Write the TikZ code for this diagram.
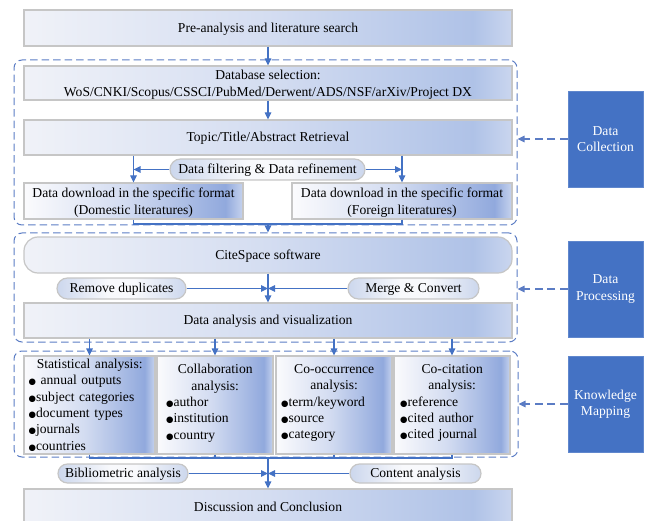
\documentclass[tikz,border=0pt]{standalone}
\usepackage{fontspec}
\setmainfont{Liberation Serif}
\newfontfamily\symf{DejaVu Sans}
\usetikzlibrary{arrows.meta}

\definecolor{flowblue}{HTML}{4472C4}
\definecolor{dashblue}{HTML}{5B7CC4}
\definecolor{sideblue}{HTML}{4472C4}
\definecolor{framegray}{HTML}{C6C6C6}
\definecolor{mainA}{HTML}{F0F2F8}
\definecolor{mainB}{HTML}{D4DDF1}
\definecolor{mainC}{HTML}{AFC2E7}
\definecolor{mainD}{HTML}{CAD6EF}
\definecolor{deepA}{HTML}{FBFBFD}
\definecolor{deepB}{HTML}{D3DCF1}
\definecolor{deepC}{HTML}{91A9DD}
\definecolor{deepD}{HTML}{C6D3EE}
\definecolor{pillE}{HTML}{CCD7ED}
\definecolor{pillM}{HTML}{F8F9FC}

\pgfdeclarehorizontalshading{mainshade}{100bp}{color(0bp)=(mainA); color(25bp)=(mainA); color(50bp)=(mainB); color(71bp)=(mainC); color(75bp)=(mainD); color(100bp)=(mainD)}
\pgfdeclarehorizontalshading{deepshade}{100bp}{color(0bp)=(deepA); color(25bp)=(deepA); color(48bp)=(deepB); color(71bp)=(deepC); color(75bp)=(deepD); color(100bp)=(deepD)}
\pgfdeclarehorizontalshading{pillshade}{100bp}{color(0bp)=(pillE); color(25bp)=(pillE); color(45bp)=(pillM); color(55bp)=(pillM); color(75bp)=(pillE); color(100bp)=(pillE)}

\newcommand\bul{{\symf\fontsize{8.5}{8.5}\selectfont ●}}

\tikzset{
  oneline/.style={text height=9.5pt, text depth=0.9pt},
  mainbox/.style={draw=framegray, line width=1.2pt, shade, shading=mainshade,
    minimum width=488pt, inner sep=0pt, oneline},
  deepbox/.style={draw=framegray, line width=1.2pt, shade, shading=deepshade,
    inner sep=0pt},
  pill/.style={draw=framegray, line width=1.2pt, shade, shading=pillshade,
    inner sep=0pt, oneline},
  groupbox/.style={draw=dashblue, line width=1pt, dash pattern=on 7.5pt off 4pt,
    rounded corners=8pt, inner sep=0pt},
  sidebox/.style={fill=sideblue, draw=sideblue!85!white, line width=0.6pt,
    text=white, minimum width=75pt, minimum height=96pt, inner sep=0pt, align=center},
  flow/.style={draw=flowblue, line width=1.2pt, -{Triangle[length=7pt,width=6.5pt]}},
  plainline/.style={draw=flowblue, line width=1.2pt},
  sideflow/.style={draw=dashblue, line width=1.2pt, dash pattern=on 8pt off 4.5pt,
    -{Triangle[length=7pt,width=6.5pt]}},
  textline/.style={anchor=base, inner sep=0pt},
  listtext/.style={anchor=north west, inner sep=0pt, align=left}
}

\begin{document}
\begin{tikzpicture}[x=1pt, y=-1pt, font=\fontsize{13.6}{16.4}\selectfont]
\useasboundingbox (0,0) rectangle (650,521);

% dashed stage frames
\node[groupbox, minimum width=503pt, minimum height=165pt] (g1) at (265.5,142.5) {};
\node[groupbox, minimum width=503pt, minimum height=109pt] (g2) at (265.5,287.5) {};
\node[groupbox, minimum width=504pt, minimum height=106pt] (g3) at (266,404) {};

% main column
\node[mainbox, minimum height=36pt] (pre) at (268,28) {Pre-analysis and literature search};
\node[mainbox, minimum height=34pt] (db) at (268,83) {};
\node[textline] (dbA) at (268,79.5) {Database selection:};
\node[textline] (dbB) at (268,96.5) {WoS/CNKI/Scopus/CSSCI/PubMed/Derwent/ADS/NSF/arXiv/Project DX};
\node[mainbox, minimum height=35pt] (topic) at (268,137.5) {Topic/Title/Abstract Retrieval};
\node[pill, minimum width=195pt, minimum height=21pt, rounded corners=10.5pt] (filt) at (267.5,169.5)
  {Data filtering \& Data refinement};
\node[deepbox, minimum width=219pt, minimum height=36pt] (dom) at (133.5,201) {};
\node[textline] (domA) at (133.5,197.7) {Data download in the specific format};
\node[textline] (domB) at (133.5,215) {(Domestic literatures)};
\node[deepbox, minimum width=220pt, minimum height=36pt] (for) at (402,201) {};
\node[textline] (forA) at (402,197.7) {Data download in the specific format};
\node[textline] (forB) at (402,215) {(Foreign literatures)};

\node[mainbox, minimum height=36pt, rounded corners=14pt] (cite) at (268,255) {CiteSpace software};
\node[pill, minimum width=129pt, minimum height=21pt, rounded corners=10.5pt] (rmdup) at (121.5,288.5) {Remove duplicates};
\node[pill, minimum width=131pt, minimum height=21pt, rounded corners=10.5pt] (merge) at (413.5,288.5) {Merge \& Convert};
\node[mainbox, minimum height=35pt] (dav) at (268,320.5) {Data analysis and visualization};

% analysis panels
\node[deepbox, minimum width=131pt, minimum height=98pt] (a1) at (89.5,405) {};
\node[deepbox, minimum width=116pt, minimum height=98pt] (a2) at (215,405) {};
\node[deepbox, minimum width=116pt, minimum height=98pt] (a3) at (334,405) {};
\node[deepbox, minimum width=116pt, minimum height=98pt] (a4) at (452,405) {};

\node[listtext, text width=122pt] (a1t) at (28.5,358.7)
  {{\centering Statistical analysis:\par}
   \bul\ annual outputs\\ \bul subject categories\\ \bul document types\\ \bul journals\\ \bul countries};
\node[listtext, text width=98pt] (a2t) at (166,364)
  {{\centering Collaboration\\ analysis:\par}
   \bul author\\ \bul institution\\ \bul country};
\node[listtext, text width=106pt] (a3t) at (281,364)
  {{\centering Co-occurrence\\ analysis:\par}
   \bul term/keyword\\ \bul source\\ \bul category};
\node[listtext, text width=104pt] (a4t) at (400,364)
  {{\centering Co-citation\\ analysis:\par}
   \bul reference\\ \bul cited author\\ \bul cited journal};

\node[pill, minimum width=130pt, minimum height=19pt, rounded corners=9.5pt] (bib) at (123,473.5) {Bibliometric analysis};
\node[pill, minimum width=131pt, minimum height=19pt, rounded corners=9.5pt] (cont) at (415.5,473.5) {Content analysis};
\node[mainbox, minimum height=36pt] (disc) at (268,507) {Discussion and Conclusion};

% stage labels
\node[sidebox] (dc) at (605.5,139) {Data\\Collection};
\node[sidebox] (dp) at (605.5,289) {Data\\Processing};
\node[sidebox] (km) at (605.5,404) {Knowledge\\Mapping};

% connectors
\draw[flow] (pre) -- (db);
\draw[flow] (db) -- (topic);
\draw[flow] (topic.south -| dom.north) -- (dom.north);
\draw[flow] (topic.south -| for.north) -- (for.north);
\draw[flow] (filt.west) -- (filt.west -| dom.north);
\draw[flow] (filt.east) -- (filt.east -| for.north);

\coordinate (m1) at (268,224);
\draw[plainline] (dom.south) |- (m1);
\draw[plainline] (for.south) |- (m1);
\draw[flow] (m1) -- (m1 |- g2.north);

\draw[flow] (cite) -- (dav);
\coordinate (m2) at (cite.south |- rmdup.east);
\draw[flow] (rmdup.east) -- (m2);
\draw[flow] (merge.west) -- (m2);

\draw[flow] (dav.south -| a1.north) -- (a1.north);
\draw[flow] (dav.south -| a2.north) -- (a2.north);
\draw[flow] (dav.south -| a3.north) -- (a3.north);
\draw[flow] (dav.south -| a4.north) -- (a4.north);

\coordinate (m3) at (268,458);
\draw[plainline] (a1.south) -- (a1.south |- m3) -- (a4.south |- m3) -- (a4.south);
\draw[plainline] (a2.south) -- (a2.south |- m3);
\draw[plainline] (a3.south) -- (a3.south |- m3);
\draw[flow] (m3) -- (disc.north);
\coordinate (m4) at (m3 |- bib.east);
\draw[flow] (bib.east) -- (m4);
\draw[flow] (cont.west) -- (m4);

\draw[sideflow] (dc.west) -- (dc.west -| g1.east);
\draw[sideflow] (dp.west) -- (dp.west -| g2.east);
\draw[sideflow] (km.west) -- (km.west -| g3.east);
\end{tikzpicture}
\end{document}
